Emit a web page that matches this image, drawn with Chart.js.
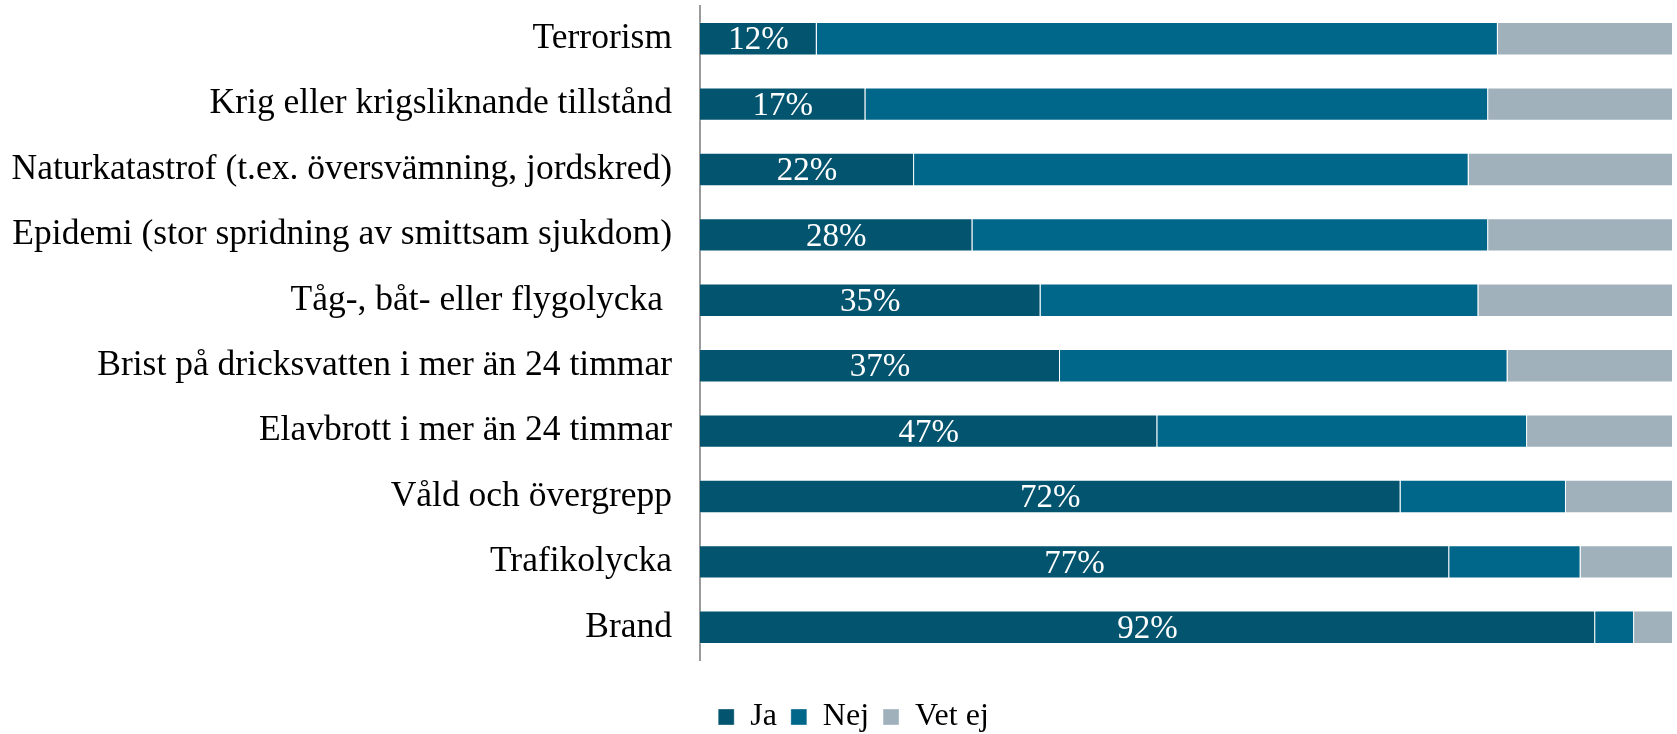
<!DOCTYPE html>
<html lang="sv">
<head>
<meta charset="utf-8">
<title>Händelser</title>
<script src="https://cdn.jsdelivr.net/npm/chart.js@4.4.1/dist/chart.umd.min.js"></script>
<style>
  html, body { margin: 0; padding: 0; background: #fff; }
  #wrap { width: 1677px; height: 734px; }
</style>
</head>
<body>
<div id="wrap"><canvas id="chart" width="1677" height="734"></canvas></div>
<script>
'use strict';

/* ── Data ── */
const categories = [
  'Terrorism',
  'Krig eller krigsliknande tillstånd',
  'Naturkatastrof (t.ex. översvämning, jordskred)',
  'Epidemi (stor spridning av smittsam sjukdom)',
  'Tåg-, båt- eller flygolycka ',
  'Brist på dricksvatten i mer än 24 timmar',
  'Elavbrott i mer än 24 timmar',
  'Våld och övergrepp',
  'Trafikolycka',
  'Brand',
];
const ja    = [12, 17, 22, 28, 35, 37, 47, 72, 77, 92];
const nej   = [70, 64, 57, 53, 45, 46, 38, 17, 13.5, 4];
const vetEj = [18, 19, 21, 19, 20, 17, 15, 11, 9.5, 4];

const COLORS = { ja: '#03546F', nej: '#00678A', vetEj: '#A0B1BC' };
const SERIF = "'Liberation Serif', 'DejaVu Serif', serif";

/* ── Labels inside the Ja bars ── */
const jaLabels = {
  id: 'jaLabels',
  afterDatasetsDraw(chart) {
    const meta = chart.getDatasetMeta(0);
    const ctx = chart.ctx;
    ctx.save();
    ctx.fillStyle = '#ffffff';
    ctx.font = `33px ${SERIF}`;
    ctx.textAlign = 'center';
    ctx.textBaseline = 'middle';
    meta.data.forEach((bar, i) => {
      const x = (bar.base + bar.x) / 2;
      ctx.fillText(ja[i] + '%', x, bar.y + 2);
    });
    ctx.restore();
  },
};

/* legend sits a little right of the canvas centre in the original */
const legendShift = {
  id: 'legendShift',
  afterLayout(chart) {
    chart.legend.left += 17;
    chart.legend.right += 17;
  },
};

const barStyle = {
  borderColor: 'rgba(255,255,255,0.35)',
  borderWidth: 1,
  barPercentage: 0.51,
  categoryPercentage: 1,
};

new Chart(document.getElementById('chart'), {
  type: 'bar',
  data: {
    labels: categories,
    datasets: [
      { label: 'Ja',     data: ja,    backgroundColor: COLORS.ja,    ...barStyle },
      { label: 'Nej',    data: nej,   backgroundColor: COLORS.nej,   ...barStyle },
      { label: 'Vet ej', data: vetEj, backgroundColor: COLORS.vetEj, ...barStyle },
    ],
  },
  options: {
    indexAxis: 'y',
    responsive: false,
    animation: false,
    layout: { padding: { top: 6, right: 4, left: 0, bottom: -9 } },
    plugins: {
      legend: {
        position: 'bottom',
        labels: {
          boxWidth: 16,
          boxHeight: 16,
          padding: 14,
          color: '#000',
          font: { family: SERIF, size: 32 },
        },
      },
      tooltip: { enabled: false },
    },
    scales: {
      x: {
        stacked: true,
        min: 0,
        max: 100,
        // empty axis, only keeps the gap above the legend
        afterFit: s => { s.height = 27; },
        grid: { display: false },
        border: { display: false },
        ticks: { display: false },
      },
      y: {
        stacked: true,
        afterFit: s => { s.width = 700; },
        // invisible tick marks give the label gap without padding the area top
        grid: { display: true, drawOnChartArea: false, drawTicks: true, tickLength: 28, color: 'rgba(0,0,0,0)' },
        border: { display: true, color: '#9a9a9a', width: 2 },
        ticks: {
          padding: 0,
          color: '#000',
          font: { family: SERIF, size: 35.5, lineHeight: 0.1 },
        },
      },
    },
  },
  plugins: [jaLabels, legendShift],
});
</script>
</body>
</html>
